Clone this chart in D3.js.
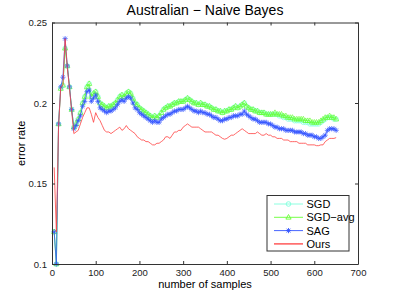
<!DOCTYPE html>
<html>
<head>
<meta charset="utf-8">
<script src="https://cdn.jsdelivr.net/npm/d3@7"></script>
<style>
  body { margin: 0; background: #fff; }
  svg { display: block; font-family: "Liberation Sans", Arial, sans-serif; }
</style>
</head>
<body>
<div id="chart"></div>
<script>
var width = 395, height = 297,
    margin = {top: 22.5, right: 37, bottom: 33, left: 52};

// samples every 5 steps
var samples = d3.range(5, 655, 5);

var sagValues = [
  0.120, 0.100, 0.187, 0.210, 0.216, 0.240, 0.223, 0.210, 0.196, 0.184,
  0.186, 0.189, 0.192, 0.198, 0.201, 0.207, 0.208, 0.201, 0.203, 0.205,
  0.201, 0.197, 0.196, 0.195, 0.194, 0.195, 0.195, 0.196, 0.197, 0.199,
  0.201, 0.202, 0.201, 0.203, 0.204, 0.203, 0.200, 0.197, 0.196, 0.194,
  0.193, 0.192, 0.191, 0.190, 0.189, 0.188, 0.189, 0.188, 0.188, 0.190,
  0.191, 0.192, 0.193, 0.193, 0.194, 0.195, 0.195, 0.196, 0.196, 0.196,
  0.197, 0.198, 0.197, 0.196, 0.195, 0.195, 0.194, 0.195, 0.194, 0.194,
  0.193, 0.193, 0.192, 0.191, 0.191, 0.190, 0.189, 0.189, 0.190, 0.190,
  0.191, 0.191, 0.192, 0.192, 0.192, 0.193, 0.193, 0.195, 0.193, 0.192,
  0.191, 0.190, 0.190, 0.189, 0.188, 0.188, 0.188, 0.188, 0.187, 0.187,
  0.186, 0.185, 0.185, 0.184, 0.184, 0.184, 0.183, 0.183, 0.183, 0.183,
  0.182, 0.182, 0.182, 0.182, 0.181, 0.181, 0.180, 0.180, 0.180, 0.179,
  0.179, 0.178, 0.178, 0.179, 0.180, 0.183, 0.184, 0.184, 0.184, 0.183
];

var sgdAvgValues = [
  0.120, 0.100, 0.187, 0.209, 0.211, 0.234, 0.223, 0.210, 0.196, 0.185,
  0.187, 0.190, 0.194, 0.200, 0.204, 0.210, 0.212, 0.204, 0.206, 0.207,
  0.204, 0.200, 0.199, 0.198, 0.197, 0.198, 0.198, 0.199, 0.200, 0.202,
  0.204, 0.205, 0.204, 0.206, 0.207, 0.206, 0.203, 0.200, 0.199, 0.197,
  0.196, 0.195, 0.194, 0.193, 0.192, 0.191, 0.192, 0.191, 0.192, 0.194,
  0.196, 0.197, 0.198, 0.198, 0.199, 0.200, 0.200, 0.201, 0.201, 0.201,
  0.202, 0.203, 0.202, 0.201, 0.200, 0.200, 0.199, 0.200, 0.199, 0.199,
  0.198, 0.198, 0.197, 0.196, 0.196, 0.195, 0.195, 0.194, 0.195, 0.195,
  0.196, 0.196, 0.197, 0.198, 0.197, 0.198, 0.199, 0.200, 0.198, 0.197,
  0.196, 0.196, 0.195, 0.195, 0.194, 0.194, 0.194, 0.193, 0.193, 0.193,
  0.193, 0.194, 0.193, 0.193, 0.193, 0.192, 0.192, 0.191, 0.191, 0.191,
  0.190, 0.190, 0.190, 0.190, 0.190, 0.189, 0.189, 0.189, 0.188, 0.188,
  0.188, 0.188, 0.189, 0.190, 0.191, 0.191, 0.192, 0.191, 0.191, 0.190
];

var sgdValues = [
  0.120, 0.100, 0.187, 0.209, 0.211, 0.234, 0.223, 0.210, 0.196, 0.185,
  0.187, 0.190, 0.194, 0.200, 0.204, 0.210, 0.212, 0.204, 0.206, 0.207,
  0.204, 0.200, 0.199, 0.198, 0.197, 0.198, 0.198, 0.199, 0.200, 0.202,
  0.204, 0.205, 0.204, 0.206, 0.207, 0.206, 0.203, 0.200, 0.199, 0.197,
  0.196, 0.195, 0.194, 0.193, 0.192, 0.191, 0.192, 0.191, 0.192, 0.194,
  0.196, 0.197, 0.198, 0.198, 0.199, 0.200, 0.200, 0.201, 0.201, 0.201,
  0.202, 0.203, 0.202, 0.201, 0.200, 0.200, 0.199, 0.200, 0.199, 0.199,
  0.198, 0.198, 0.197, 0.196, 0.196, 0.195, 0.195, 0.194, 0.195, 0.195,
  0.196, 0.196, 0.197, 0.198, 0.197, 0.198, 0.199, 0.200, 0.198, 0.197,
  0.196, 0.196, 0.195, 0.195, 0.194, 0.194, 0.194, 0.193, 0.193, 0.193,
  0.193, 0.193, 0.193, 0.192, 0.192, 0.191, 0.191, 0.190, 0.190, 0.190,
  0.189, 0.189, 0.189, 0.189, 0.188, 0.188, 0.188, 0.187, 0.187, 0.187,
  0.187, 0.187, 0.188, 0.189, 0.190, 0.191, 0.191, 0.191, 0.190, 0.190
];

var oursValues = [
  0.160, 0.120, 0.185, 0.210, 0.211, 0.240, 0.222, 0.209, 0.195, 0.181,
  0.182, 0.183, 0.187, 0.191, 0.194, 0.197, 0.197, 0.193, 0.188, 0.194,
  0.191, 0.189, 0.186, 0.183, 0.182, 0.182, 0.181, 0.182, 0.183, 0.184,
  0.185, 0.183, 0.184, 0.186, 0.184, 0.183, 0.182, 0.181, 0.179, 0.178,
  0.177, 0.177, 0.176, 0.176, 0.175, 0.174, 0.174, 0.175, 0.175, 0.176,
  0.177, 0.179, 0.179, 0.178, 0.180, 0.182, 0.182, 0.183, 0.183, 0.185,
  0.186, 0.187, 0.186, 0.185, 0.185, 0.185, 0.185, 0.184, 0.183, 0.182,
  0.182, 0.182, 0.182, 0.181, 0.180, 0.180, 0.179, 0.178, 0.1775, 0.178,
  0.179, 0.180, 0.180, 0.181, 0.182, 0.183, 0.184, 0.183, 0.182, 0.181,
  0.181, 0.181, 0.181, 0.182, 0.181, 0.180, 0.180, 0.181, 0.180, 0.180,
  0.179, 0.179, 0.178, 0.178, 0.178, 0.177, 0.177, 0.177, 0.176, 0.176,
  0.176, 0.176, 0.175, 0.175, 0.175, 0.175, 0.174, 0.174, 0.174, 0.174,
  0.1735, 0.1735, 0.174, 0.174, 0.176, 0.177, 0.178, 0.178, 0.178, 0.1785
];

var seriesNames = ["SGD", "SGD\u2212avg", "SAG", "Ours"];
var xTicks = [0, 100, 200, 300, 400, 500, 600, 700];
var yTicks = [0.1, 0.15, 0.2, 0.25];

var colors = {SGD: "#80ffdd", avg: "#66ff33", SAG: "#3355ff", Ours: "#ff4040"};

var svg = d3.select("#chart").append("svg")
    .attr("width", width)
    .attr("height", height);

svg.append("rect").attr("width", width).attr("height", height).attr("fill", "#fff");

var x = d3.scaleLinear().domain([0, 700]).range([margin.left, width - margin.right]);
var y = d3.scaleLinear().domain([0.1, 0.25]).range([height - margin.bottom, margin.top]);

// title and labels
svg.append("text")
    .attr("x", 205).attr("y", 15)
    .attr("text-anchor", "middle")
    .style("font-size", "14px")
    .text("Australian \u2212 Naive Bayes");

svg.append("text")
    .attr("x", 205).attr("y", 288)
    .attr("text-anchor", "middle")
    .style("font-size", "11px")
    .text("number of samples");

svg.append("text")
    .attr("transform", "translate(25," + y(0.175) + ") rotate(-90)")
    .attr("text-anchor", "middle")
    .style("font-size", "11px")
    .text("error rate");

// plot lines & markers
var line = d3.line()
    .x(function(d, i) { return x(samples[i]); })
    .y(function(d) { return y(d); });

var plot = svg.append("g");

function drawSeries(vals, color, marker) {
  plot.append("path")
      .attr("d", line(vals))
      .attr("fill", "none")
      .attr("stroke", color)
      .attr("stroke-width", 0.8);
  if (marker) {
    plot.append("g").selectAll("path")
        .data(vals)
        .enter().append("path")
        .attr("transform", function(d, i) { return "translate(" + x(samples[i]) + "," + y(d) + ")"; })
        .attr("d", marker)
        .attr("fill", "none")
        .attr("stroke", color)
        .attr("stroke-width", 0.7);
  }
}

var circleMark = "M2.3,0A2.3,2.3 0 1,1 -2.3,0A2.3,2.3 0 1,1 2.3,0Z";
var triMark = "M0,-2.8L2.6,1.8L-2.6,1.8Z";
var starMark = "M-2.6,0L2.6,0M0,-2.6L0,2.6M-1.9,-1.9L1.9,1.9M-1.9,1.9L1.9,-1.9";

drawSeries(sgdValues, colors.SGD, circleMark);
drawSeries(sgdAvgValues, colors.avg, triMark);
drawSeries(sagValues, colors.SAG, starMark);
drawSeries(oursValues, colors.Ours, null);

// axes, matlab style with inward ticks
var fmt = function(d) { return String(d); };
svg.append("g")
    .attr("transform", "translate(0," + y(0.1) + ")")
    .call(d3.axisBottom(x).tickValues(xTicks).tickFormat(fmt).tickSizeInner(-3).tickSizeOuter(0).tickPadding(5));
svg.append("g")
    .attr("transform", "translate(0," + y(0.25) + ")")
    .call(d3.axisTop(x).tickValues(xTicks).tickFormat("").tickSizeInner(-3).tickSizeOuter(0));
svg.append("g")
    .attr("transform", "translate(" + x(0) + ",0)")
    .call(d3.axisLeft(y).tickValues(yTicks).tickFormat(fmt).tickSizeInner(-3).tickSizeOuter(0).tickPadding(5));
svg.append("g")
    .attr("transform", "translate(" + x(700) + ",0)")
    .call(d3.axisRight(y).tickValues(yTicks).tickFormat("").tickSizeInner(-3).tickSizeOuter(0));

svg.selectAll(".tick text").style("font-size", "9.5px").attr("fill", "#222");
svg.selectAll(".domain, .tick line").attr("stroke", "#333");

// legend
var legend = svg.append("g").attr("transform", "translate(267,195.5)");
legend.append("rect")
    .attr("width", 82).attr("height", 55.5)
    .attr("fill", "#fff").attr("stroke", "#333").attr("stroke-width", 1);

var legendMarks = [circleMark, triMark, starMark, null];
var legendColors = [colors.SGD, colors.avg, colors.SAG, colors.Ours];

seriesNames.forEach(function(name, i) {
  var ly = 8.5 + i * 13.3;
  legend.append("line")
      .attr("x1", 7).attr("x2", 36).attr("y1", ly).attr("y2", ly)
      .attr("stroke", legendColors[i]).attr("stroke-width", i == 3 ? 1.3 : 0.9);
  if (legendMarks[i]) {
    legend.append("path")
        .attr("transform", "translate(21.5," + ly + ")")
        .attr("d", legendMarks[i])
        .attr("fill", "none")
        .attr("stroke", legendColors[i])
        .attr("stroke-width", 0.9);
  }
  legend.append("text")
      .attr("x", 39.5).attr("y", ly + 4)
      .style("font-size", "11px")
      .text(name);
});
</script>
</body>
</html>
